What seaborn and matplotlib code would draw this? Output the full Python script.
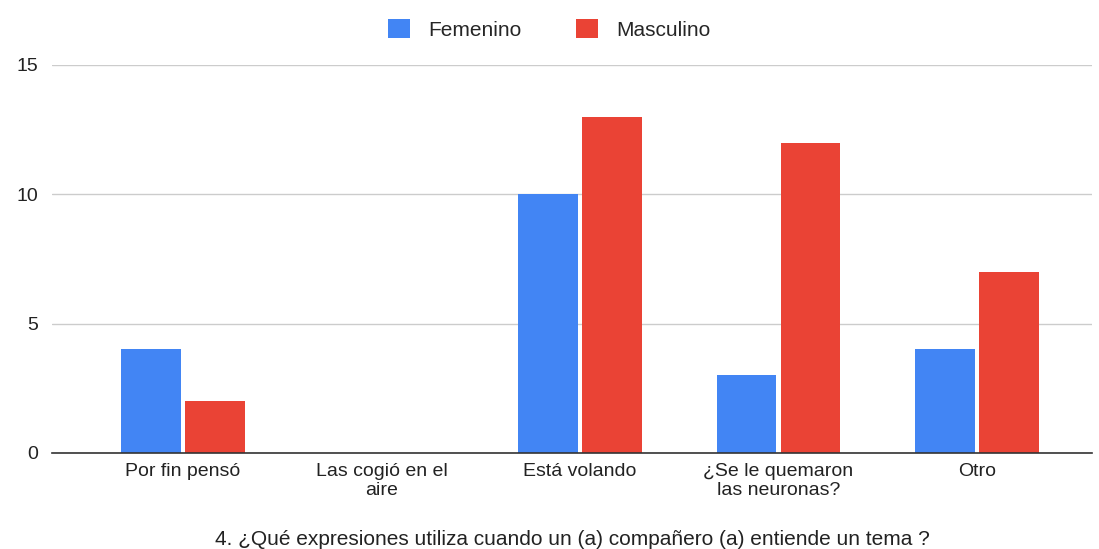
import pandas as pd
import matplotlib.pyplot as plt
import seaborn as sns

# Data
categorias = ['Por fin pensó', 'Las cogió en el\naire', 'Está volando',
              '¿Se le quemaron\nlas neuronas?', 'Otro']
femenino = [4, 0, 10, 3, 4]
masculino = [2, 0, 13, 12, 7]

df = pd.DataFrame({
    'categoria': categorias * 2,
    'valor': femenino + masculino,
    'sexo': ['Femenino'] * len(categorias) + ['Masculino'] * len(categorias),
})

sns.set_style('white')
plt.rcParams['font.family'] = ['Liberation Sans', 'DejaVu Sans']

fig = plt.figure(figsize=(10.99, 5.49), dpi=100)
ax = fig.add_axes([0.0473, 0.175, 0.9463, 0.7067])

sns.barplot(data=df, x='categoria', y='valor', hue='sexo',
            palette={'Femenino': '#4285F4', 'Masculino': '#EA4335'},
            width=0.645, gap=0.07, saturation=1, linewidth=0, ax=ax)

ax.set_ylim(0, 15)
ax.set_yticks([0, 5, 10, 15])
ax.set_xlim(-0.66, 4.58)
ax.yaxis.grid(True, color='#cccccc', linewidth=1)
ax.set_axisbelow(True)
for s in ['top', 'right', 'left']:
    ax.spines[s].set_visible(False)
ax.spines['bottom'].set_color('#333333')
ax.spines['bottom'].set_linewidth(1.2)
ax.tick_params(axis='both', length=0, labelsize=14, colors='#222222')
ax.tick_params(axis='y', pad=10)
ax.tick_params(axis='x', pad=7)
ax.set_ylabel('')
ax.set_xlabel('4. ¿Qué expresiones utiliza cuando un (a) compañero (a) entiende un tema ?',
              fontsize=15, color='#222222', labelpad=22)

handles, labels = ax.get_legend_handles_labels()
ax.legend_.remove()
fig.legend(handles, labels, loc='upper center', bbox_to_anchor=(0.5, 1.0),
           ncol=2, frameon=False, fontsize=15, handlelength=1.05, handleheight=1.05,
           columnspacing=2.6, handletextpad=0.9)

fig.savefig('out.png', dpi=100)
